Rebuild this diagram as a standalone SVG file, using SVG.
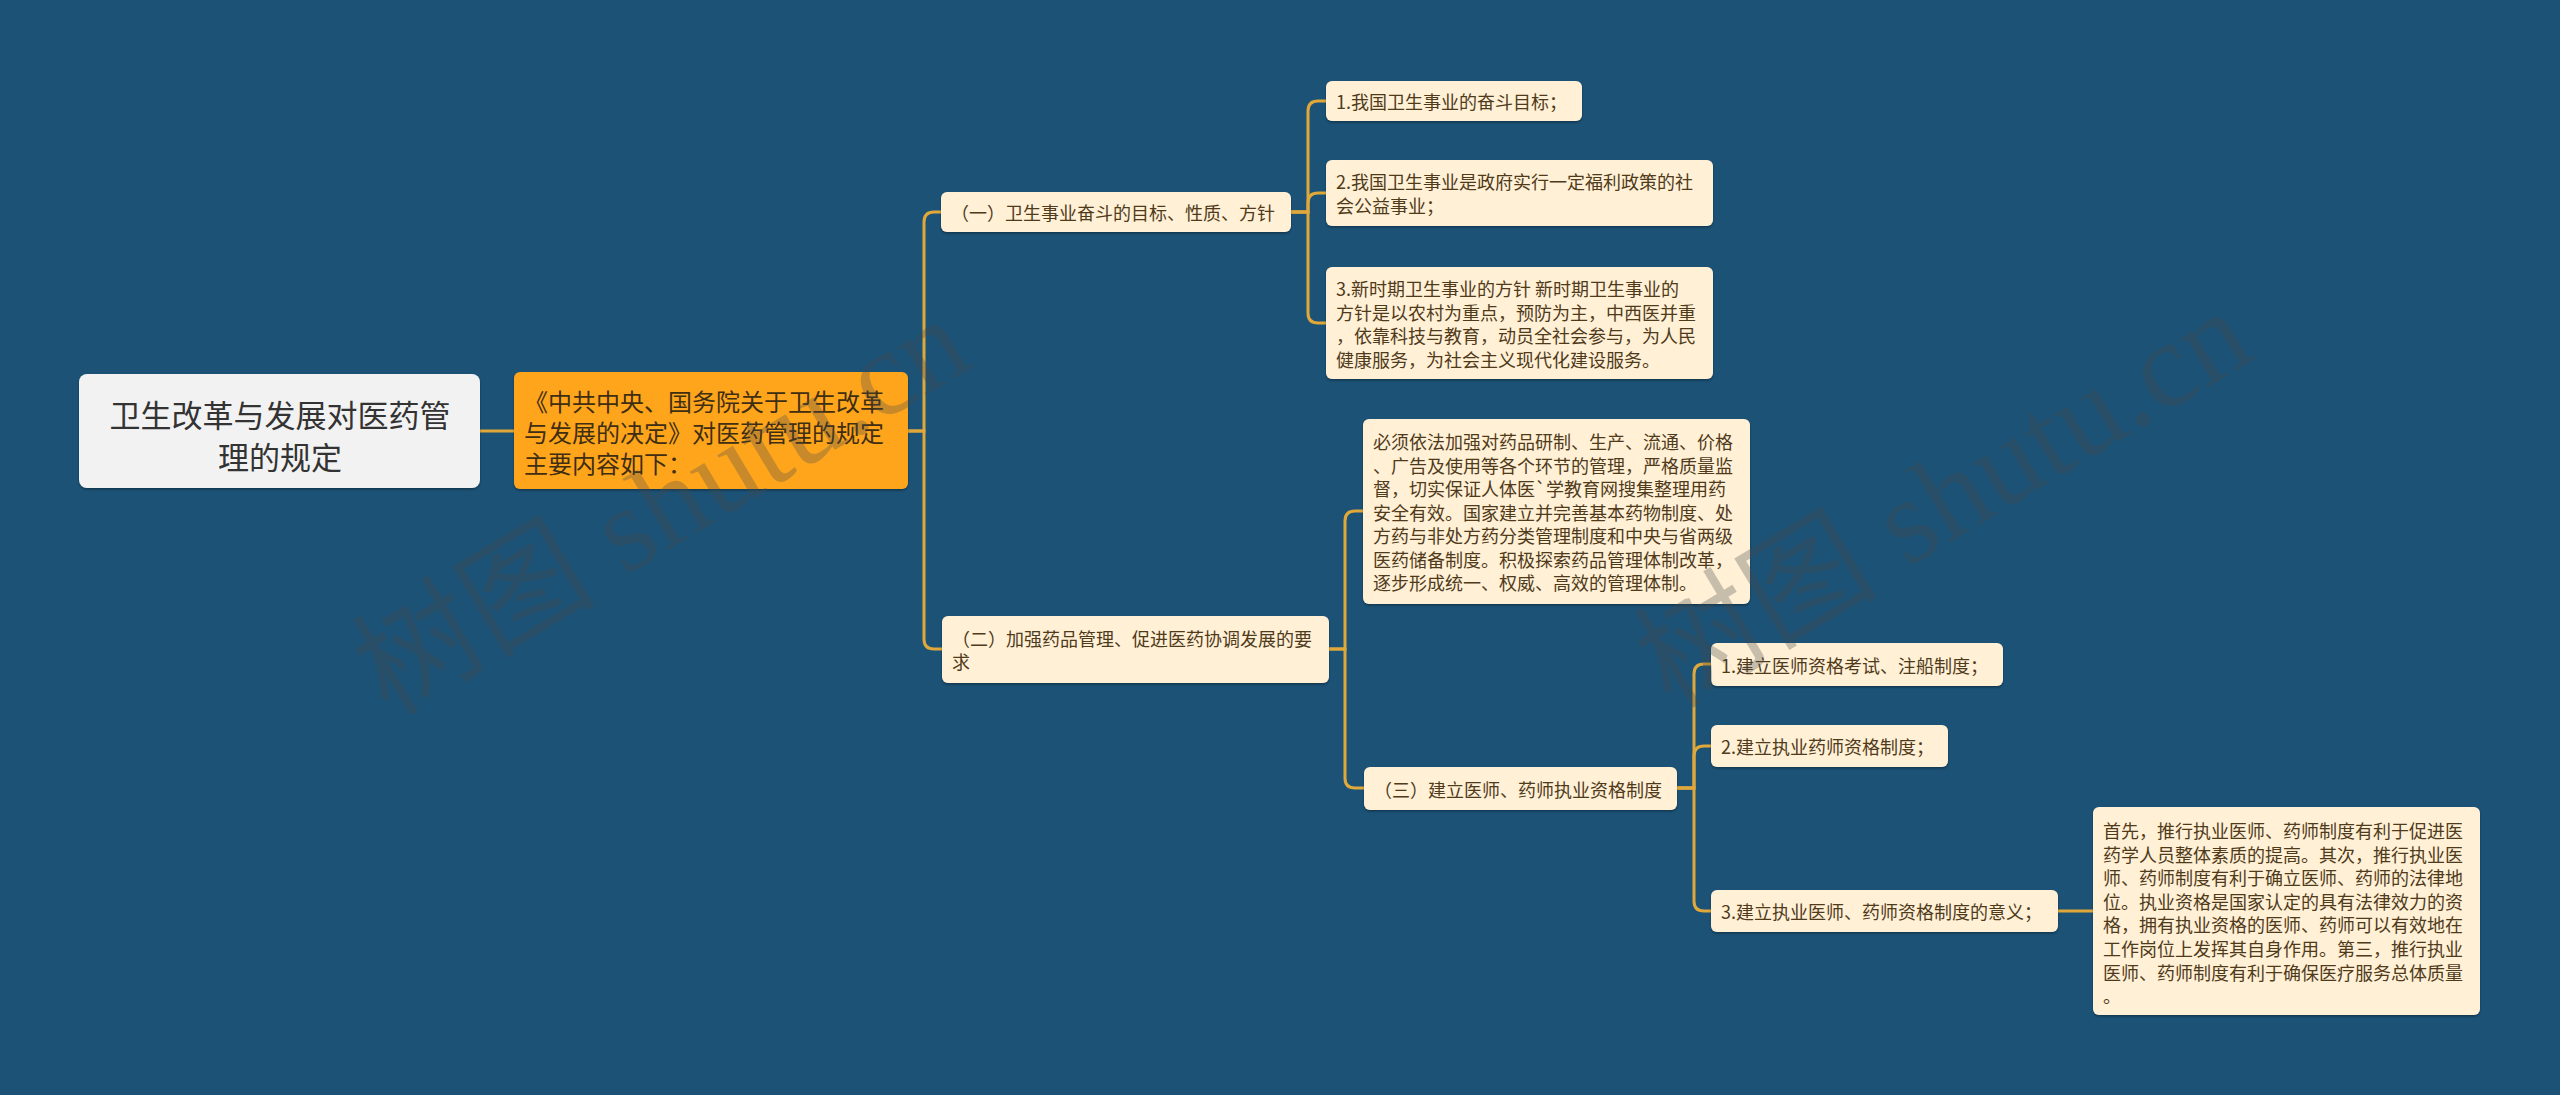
<svg xmlns="http://www.w3.org/2000/svg" width="2560" height="1095" viewBox="0 0 2560 1095">
<style>
.bg{fill:#1b5276}
.n{fill:#fff0d6}
.t{font-family:"Noto Sans CJK SC","Noto Sans",sans-serif;font-size:18px;fill:#4f3a1a;dominant-baseline:central}
.mt{font-family:"Noto Sans CJK SC","Noto Sans",sans-serif;font-size:24px;fill:#3f2e12;dominant-baseline:central}
.rt{font-family:"Noto Sans CJK SC","Noto Sans",sans-serif;font-size:31px;fill:#333333;dominant-baseline:central;text-anchor:middle}
.c{fill:none;stroke:#e0a83a;stroke-width:3}
.wm{font-family:"Liberation Serif","Noto Sans CJK SC",serif;font-size:122px;fill:#4a4a4a;opacity:0.3;text-anchor:middle;dominant-baseline:central}
</style>
<defs>
<filter id="sh" x="-5%" y="-5%" width="110%" height="120%">
<feDropShadow dx="0" dy="1.5" stdDeviation="0.8" flood-color="#000" flood-opacity="0.35"/>
</filter>
</defs>
<rect class="bg" x="0" y="0" width="2560" height="1095"/>

<g id="connectors">
<path class="c" d="M480 431 H514"/>
<path class="c" d="M908 431 H924 V222 Q924 212 934 212 H941"/>
<path class="c" d="M908 431 H924 V639 Q924 649 934 649 H942"/>
<path class="c" d="M1291 212 H1308 V111 Q1308 101 1318 101 H1326"/>
<path class="c" d="M1291 212 H1308 V203 Q1308 193 1318 193 H1326"/>
<path class="c" d="M1291 212 H1308 V313 Q1308 323 1318 323 H1326"/>
<path class="c" d="M1329 649 H1345 V521 Q1345 511 1355 511 H1363"/>
<path class="c" d="M1329 649 H1345 V778 Q1345 788 1355 788 H1364"/>
<path class="c" d="M1677 788 H1694 V674 Q1694 664 1704 664 H1711"/>
<path class="c" d="M1677 788 H1694 V756 Q1694 746 1704 746 H1711"/>
<path class="c" d="M1677 788 H1694 V901 Q1694 911 1704 911 H1711"/>
<path class="c" d="M2058 911 H2093"/>
</g>

<g id="root">
<rect x="79" y="374" width="401" height="114" rx="8" fill="#f2f2f2" filter="url(#sh)"/>
<text class="rt" x="280" y="413">卫生改革与发展对医药管</text>
<text class="rt" x="280" y="455">理的规定</text>
</g>

<g id="main">
<rect x="514" y="372" width="394" height="117" rx="6" fill="#fea51f" filter="url(#sh)"/>
<text class="mt" x="524" y="400">《中共中央、国务院关于卫生改革</text>
<text class="mt" x="524" y="431">与发展的决定》对医药管理的规定</text>
<text class="mt" x="524" y="462">主要内容如下：</text>
</g>

<g id="n1">
<rect class="n" x="941" y="192" width="350" height="40" rx="6" filter="url(#sh)"/>
<text class="t" x="951" y="212">（一）卫生事业奋斗的目标、性质、方针</text>
</g>

<g id="n1a">
<rect class="n" x="1326" y="81" width="256" height="40" rx="6" filter="url(#sh)"/>
<text class="t" x="1336" y="101">1.我国卫生事业的奋斗目标；</text>
</g>

<g id="n1b">
<rect class="n" x="1326" y="160" width="387" height="66" rx="6" filter="url(#sh)"/>
<text class="t" x="1336" y="181">2.我国卫生事业是政府实行一定福利政策的社</text>
<text class="t" x="1336" y="205">会公益事业；</text>
</g>

<g id="n1c">
<rect class="n" x="1326" y="267" width="387" height="112" rx="6" filter="url(#sh)"/>
<text class="t" x="1336" y="288">3.新时期卫生事业的方针 新时期卫生事业的</text>
<text class="t" x="1336" y="311.5">方针是以农村为重点，预防为主，中西医并重</text>
<text class="t" x="1336" y="335">，依靠科技与教育，动员全社会参与，为人民</text>
<text class="t" x="1336" y="358.5">健康服务，为社会主义现代化建设服务。</text>
</g>

<g id="n2">
<rect class="n" x="942" y="616" width="387" height="67" rx="6" filter="url(#sh)"/>
<text class="t" x="952" y="638">（二）加强药品管理、促进医药协调发展的要</text>
<text class="t" x="952" y="661">求</text>
</g>

<g id="n2a">
<rect class="n" x="1363" y="419" width="387" height="185" rx="6" filter="url(#sh)"/>
<text class="t" x="1373" y="441">必须依法加强对药品研制、生产、流通、价格</text>
<text class="t" x="1373" y="464.5">、广告及使用等各个环节的管理，严格质量监</text>
<text class="t" x="1373" y="488">督，切实保证人体医`学教育网搜集整理用药</text>
<text class="t" x="1373" y="511.5">安全有效。国家建立并完善基本药物制度、处</text>
<text class="t" x="1373" y="535">方药与非处方药分类管理制度和中央与省两级</text>
<text class="t" x="1373" y="558.5">医药储备制度。积极探索药品管理体制改革，</text>
<text class="t" x="1373" y="582">逐步形成统一、权威、高效的管理体制。</text>
</g>

<g id="n3">
<rect class="n" x="1364" y="767" width="313" height="43" rx="6" filter="url(#sh)"/>
<text class="t" x="1374" y="788.5">（三）建立医师、药师执业资格制度</text>
</g>

<g id="n3a">
<rect class="n" x="1711" y="643" width="292" height="43" rx="6" filter="url(#sh)"/>
<text class="t" x="1721" y="664.5">1.建立医师资格考试、注船制度；</text>
</g>

<g id="n3b">
<rect class="n" x="1711" y="725" width="237" height="42" rx="6" filter="url(#sh)"/>
<text class="t" x="1721" y="746">2.建立执业药师资格制度；</text>
</g>

<g id="n3c">
<rect class="n" x="1711" y="890" width="347" height="42" rx="6" filter="url(#sh)"/>
<text class="t" x="1721" y="911">3.建立执业医师、药师资格制度的意义；</text>
</g>

<g id="n3c1">
<rect class="n" x="2093" y="807" width="387" height="208" rx="6" filter="url(#sh)"/>
<text class="t" x="2103" y="830">首先，推行执业医师、药师制度有利于促进医</text>
<text class="t" x="2103" y="853.6">药学人员整体素质的提高。其次，推行执业医</text>
<text class="t" x="2103" y="877.2">师、药师制度有利于确立医师、药师的法律地</text>
<text class="t" x="2103" y="900.8">位。执业资格是国家认定的具有法律效力的资</text>
<text class="t" x="2103" y="924.4">格，拥有执业资格的医师、药师可以有效地在</text>
<text class="t" x="2103" y="948">工作岗位上发挥其自身作用。第三，推行执业</text>
<text class="t" x="2103" y="971.6">医师、药师制度有利于确保医疗服务总体质量</text>
<text class="t" x="2103" y="995.2">。</text>
</g>

<g id="watermarks">
<text class="wm" transform="translate(661 506) rotate(-31)">树图 shutu.cn</text>
<text class="wm" transform="translate(1943 498) rotate(-31)">树图 shutu.cn</text>
</g>
</svg>
